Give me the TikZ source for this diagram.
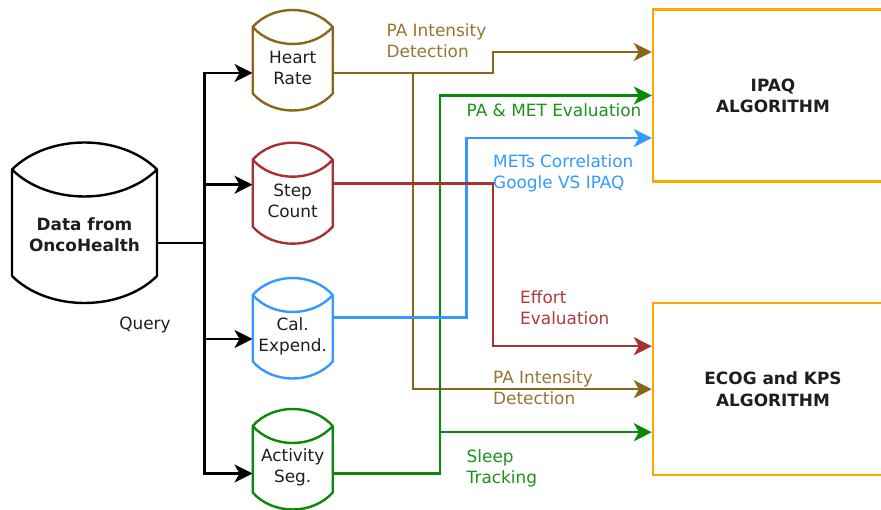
\documentclass[tikz,border=0pt]{standalone}
\usepackage{fontspec}
\setmainfont{DejaVu Sans}
\usetikzlibrary{calc,arrows.meta}

\definecolor{hrcol}{HTML}{8A661A}
\definecolor{hrtxt}{HTML}{957631}
\definecolor{stcol}{HTML}{A83232}
\definecolor{sttxt}{HTML}{AE3A3A}
\definecolor{cacol}{HTML}{3399FF}
\definecolor{catxt}{HTML}{3399FF}
\definecolor{accol}{HTML}{088A08}
\definecolor{actxt}{HTML}{1A931A}
\definecolor{algcol}{HTML}{FFA500}
\definecolor{inkcol}{HTML}{1E1E1E}

\tikzset{
  basefont/.style={font=\fontsize{16.9}{21}\selectfont},
  cylnode/.style={basefont, inner sep=0pt, align=center, text=inkcol},
  algbox/.style={draw=algcol, line width=2.4pt, minimum width=240pt, minimum height=172pt,
    inner sep=0pt, align=center, text=inkcol, font=\fontsize{16.9}{21}\selectfont\bfseries},
  flow/.style={line width=2.4pt, -{Stealth[length=18pt,width=18pt,inset=5pt]}},
  wire/.style={line width=2.4pt},
  lbl/.style={basefont, inner sep=0pt, anchor=west, align=left},
}

% outline of a storage drum round the text node #1:
% colour #2, half width #3, top and bottom distance from the text centre #4/#5, curve depth #6
\newcommand\drumline[6]{%
  \draw[#2, line width=2.4pt, line join=round]
    ($(#1.center)+(-#3,-#4+#6)$)
      .. controls ($(#1.center)+(-0.5*#3,-#4-0.3333*#6)$) and ($(#1.center)+(0.5*#3,-#4-0.3333*#6)$)
      .. ($(#1.center)+(#3,-#4+#6)$)
    -- ($(#1.center)+(#3,#5-#6)$)
      .. controls ($(#1.center)+(0.5*#3,#5+0.3333*#6)$) and ($(#1.center)+(-0.5*#3,#5+0.3333*#6)$)
      .. ($(#1.center)+(-#3,#5-#6)$)
    -- cycle
    ($(#1.center)+(-#3,-#4+#6)$)
      .. controls ($(#1.center)+(-0.5*#3,-#4+2.3333*#6)$) and ($(#1.center)+(0.5*#3,-#4+2.3333*#6)$)
      .. ($(#1.center)+(#3,-#4+#6)$);}

\begin{document}
\begin{tikzpicture}[x=1pt,y=-1pt]
\useasboundingbox (0,0) rectangle (881,510);

% source database
\node[cylnode, font=\fontsize{16.9}{21}\selectfont\bfseries, minimum width=145pt] (db) at (84.5,235) {Data from\\OncoHealth};
\drumline{db}{black}{72.5}{92.5}{68}{27}

% sensor streams
\node[cylnode, minimum width=80pt] (hr)  at (292.7,68)    {Heart\\Rate};
\node[cylnode, minimum width=80pt] (stp) at (292.7,200.7) {Step\\Count};
\node[cylnode, minimum width=80pt] (cal) at (292.7,336)   {Cal.\\Expend.};
\node[cylnode, minimum width=80pt] (act) at (292.7,467)   {Activity\\Seg.};
\drumline{hr}{hrcol}{40}{58}{42.5}{17}
\drumline{stp}{stcol}{40}{58}{43}{17}
\drumline{cal}{cacol}{40}{58}{42.5}{17}
\drumline{act}{accol}{40}{58}{42.5}{17}

% algorithms
\node[algbox] (ipaq) at (773,95.5) {IPAQ\\ALGORITHM};
\node[algbox] (ecog) at (773,389.2) {ECOG and KPS\\ALGORITHM};

% query fan-out
\coordinate (jn) at (204.5,243);
\draw[wire] ($(db.east)+(0,8)$) -- (jn);
\draw[flow] (jn) |- ($(hr.west)+(0,5)$);
\draw[flow] (jn) |- ($(stp.west)+(0,-16)$);
\draw[flow] (jn) |- ($(cal.west)+(0,3)$);
\draw[flow] (jn) |- ($(act.west)+(0,6.5)$);
\node[basefont, inner sep=0pt, text=inkcol] (qry) at (145,324.5) {Query};

% heart rate
\draw[flow, hrcol] ($(hr.east)+(0,5)$) -| (493,62) |- ($(ipaq.west)+(0,-43.5)$);
\draw[flow, hrcol] ($(hr.east)+(0,5)$) -| (413,300) |- (ecog.west);
% activity segmentation
\draw[flow, accol] ($(act.east)+(0,6.5)$) -| (440,300) |- (ipaq.west);
\draw[flow, accol] ($(act.east)+(0,6.5)$) -| (440,432.2) -- ($(ecog.west)+(0,43)$);
% calorie expenditure
\draw[flow, cacol] ($(cal.east)+(0,-18.3)$) -| (466.5,200) |- ($(ipaq.west)+(0,42.5)$);
% step count
\draw[flow, stcol] ($(stp.east)+(0,-17)$) -| (493,300) |- ($(ecog.west)+(0,-43)$);

% connector labels
\node[lbl, text=hrtxt] (l1) at (386.5,41)  {PA Intensity\\Detection};
\node[lbl, text=actxt] (l2) at (466.5,110) {PA \& MET Evaluation};
\node[lbl, text=catxt] (l3) at (493,173.5) {METs Correlation\\Google VS IPAQ};
\node[lbl, text=sttxt] (l4) at (520,307.8) {Effort\\Evaluation};
\node[lbl, text=hrtxt] (l5) at (493,387.8) {PA Intensity\\Detection};
\node[lbl, text=actxt] (l6) at (466.5,468.8) {Sleep\\Tracking};
\end{tikzpicture}
\end{document}
